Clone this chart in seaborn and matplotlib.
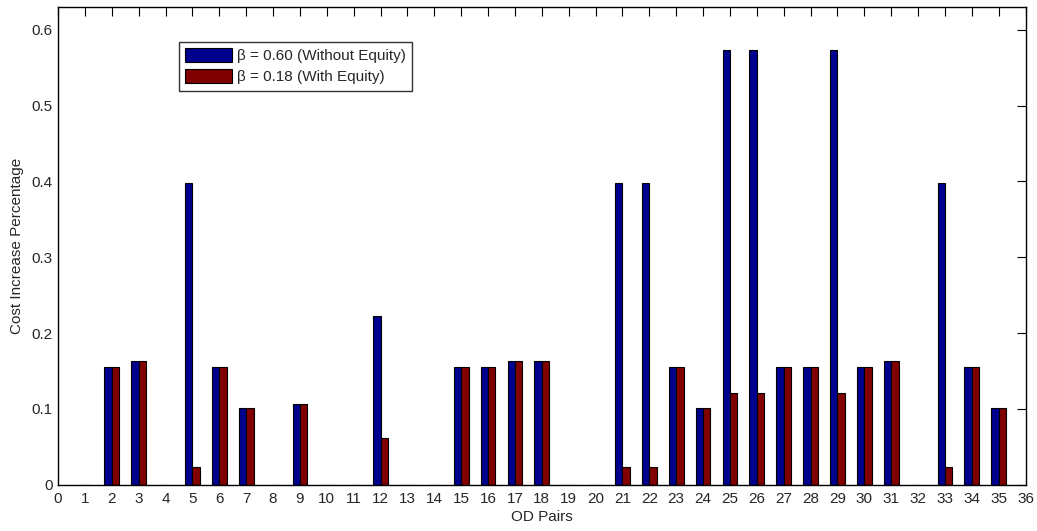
import numpy as np
import pandas as pd
import matplotlib
matplotlib.use("Agg")
import matplotlib.pyplot as plt
import seaborn as sns

# OD pair indices and cost increase for each equity setting
od_pairs = list(range(1, 36))
without_equity = [0, 0.155, 0.163, 0, 0.398, 0.155, 0.101, 0, 0.107, 0,
                  0, 0.222, 0, 0, 0.155, 0.155, 0.163, 0.163, 0, 0,
                  0.398, 0.398, 0.155, 0.101, 0.573, 0.573, 0.155, 0.155, 0.573, 0.155,
                  0.163, 0, 0.398, 0.155, 0.101]
with_equity = [0, 0.155, 0.163, 0, 0.024, 0.155, 0.101, 0, 0.107, 0,
               0, 0.062, 0, 0, 0.155, 0.155, 0.163, 0.163, 0, 0,
               0.024, 0.024, 0.155, 0.101, 0.121, 0.121, 0.155, 0.155, 0.121, 0.155,
               0.163, 0, 0.024, 0.155, 0.101]
series_labels = ["\u03b2 = 0.60 (Without Equity)", "\u03b2 = 0.18 (With Equity)"]
series_colors = ["#00008F", "#800000"]
x_ticks = list(range(0, 37))
y_ticks = [0, 0.1, 0.2, 0.3, 0.4, 0.5, 0.6]
y_tick_labels = ["0", "0.1", "0.2", "0.3", "0.4", "0.5", "0.6"]

df = pd.DataFrame({
    "od": od_pairs * 2,
    "value": without_equity + with_equity,
    "series": [series_labels[0]] * len(od_pairs) + [series_labels[1]] * len(od_pairs),
})

sns.set_style("white")
plt.rcParams["font.family"] = ["Liberation Sans", "DejaVu Sans"]
FS = 11

fig = plt.figure(figsize=(10.37, 5.31), dpi=100)
ax = fig.add_axes([0.056, 0.087, 0.933, 0.900])

sns.barplot(data=df, x="od", y="value", hue="series", hue_order=series_labels,
            palette=series_colors, native_scale=True, width=0.55, gap=0,
            edgecolor="black", linewidth=0.8, saturation=1, ax=ax, legend=True)

ax.set_xlim(0, 36)
ax.set_ylim(0, 0.63)
ax.set_xticks(x_ticks)
ax.set_xticklabels([str(t) for t in x_ticks], fontsize=FS)
ax.set_yticks(y_ticks)
ax.set_yticklabels(y_tick_labels, fontsize=FS)
ax.tick_params(direction="in", top=True, right=True, length=6.5, width=0.8,
               color="black")
ax.tick_params(axis="x", pad=5)
ax.tick_params(axis="y", pad=4)
ax.set_xlabel("OD Pairs", fontsize=FS, labelpad=3)
ax.set_ylabel("Cost Increase Percentage", fontsize=FS, labelpad=5)
for sp in ax.spines.values():
    sp.set_visible(True)
    sp.set_color("black")
    sp.set_linewidth(1.0)

handles, labels = ax.get_legend_handles_labels()
leg = ax.legend(handles, labels, loc="upper left", bbox_to_anchor=(0.125, 0.927),
                fontsize=FS, frameon=True, fancybox=False, edgecolor="black",
                handlelength=3.08, handleheight=0.98, handletextpad=0.28,
                labelspacing=0.4, borderpad=0.42, borderaxespad=0)
leg.get_frame().set_linewidth(1.0)

fig.savefig("out.png", dpi=100)
